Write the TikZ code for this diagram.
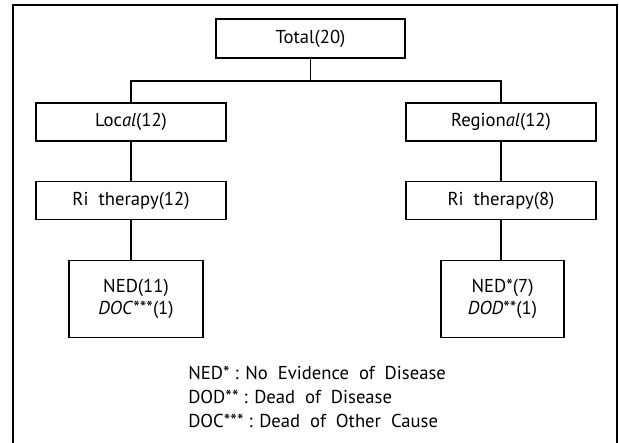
\documentclass[tikz,border=0pt]{standalone}
\usepackage{fontspec}
\setmainfont{PT Sans}
\usepackage{tikz}
\usetikzlibrary{calc,positioning}

\begin{document}
\begin{tikzpicture}[x=0.75pt,y=-0.75pt,font=\fontsize{14}{17}\selectfont]
\tikzstyle{box}=[draw, line width=0.8pt, inner sep=2pt, align=center]%, minimum size
\tikzstyle{wide}=[box, minimum width=142.5pt, minimum height=28.5pt]
\tikzstyle{leaf}=[box, minimum height=58pt]

\useasboundingbox (0,0) rectangle (619,443);
% outer frame, bottom edge cut off
\draw[line width=0.8pt] (13,443) -- (13,5) -- (617,5) -- (617,443);

\node[box, minimum width=141.75pt, minimum height=29.25pt] (total) at (310.5,38.5) {Total(20)};
\coordinate (hub) at (310.5,81);
\node[wide] (local) at (131,122) {Loc\textit{al}(12)};
\node[wide] (regional) at (501,122) {Region\textit{al}(12)};
\node[wide] (riL) at (131,200.5) {Ri\ \ therapy(12)};
\node[wide] (riR) at (501,200.5) {Ri\ \ therapy(8)};
\node[leaf, minimum width=100.5pt] (nedL) at (136,299) {NED(11)\\ \textit{DOC}***(1)};
\node[leaf, minimum width=92.25pt] (nedR) at (502.5,299) {NED*(7)\\ \textit{DOD}**(1)};
\node[align=left, anchor=north west, inner sep=0pt, font=\fontsize{14}{18}\selectfont] (legend) at (188,366)
  {NED*\ : No\ \ Evidence\ \ of\ \ Disease\\ DOD**\ : Dead\ \ of\ \ Disease\\ DOC***\ : Dead\ \ of\ \ Other\ \ Cause};

\draw[line width=0.8pt] (total) -- (hub);
\draw[line width=0.8pt] (local) |- (hub) -| (regional);
\draw[line width=0.8pt] (local) -- (riL) (regional) -- (riR);
\draw[line width=0.8pt] (riL) -- (riL |- nedL.north) (riR) -- (riR |- nedR.north);
\end{tikzpicture}
\end{document}
